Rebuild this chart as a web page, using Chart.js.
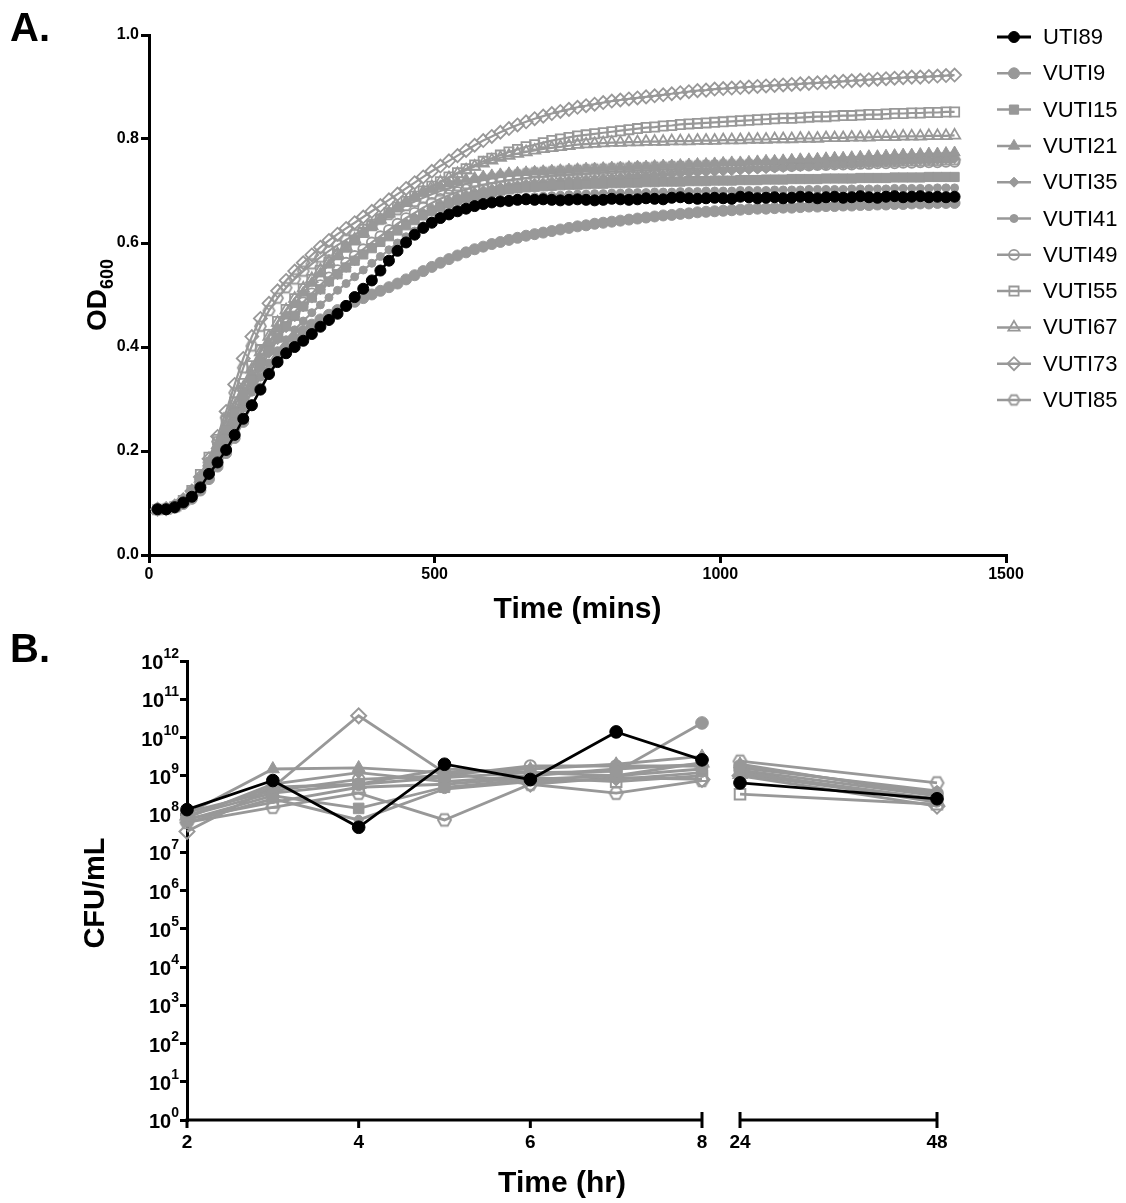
<!DOCTYPE html>
<html>
<head>
<meta charset="utf-8">
<script src="https://cdn.jsdelivr.net/npm/chart.js@4.4.1/dist/chart.umd.min.js"></script>
<style>
  body { margin: 0; background: #fff; }
  #wrap { position: relative; width: 1126px; height: 1203px; }
  canvas { position: absolute; left: 0; }
  #growth { top: 0; }
  #cfu { top: 600px; }
</style>
</head>
<body>
<div id="wrap">
  <canvas id="growth" width="1126" height="630"></canvas>
  <canvas id="cfu" width="1126" height="603"></canvas>
</div>
<script>
// ---- data: panel A (OD600 growth curves) ----
const timeMins = [15,30,45,60,75,90,105,120,135,150,165,180,195,210,225,240,255,270,285,300,
  315,330,345,360,375,390,405,420,435,450,465,480,495,510,525,540,555,570,585,600,
  615,630,645,660,675,690,705,720,735,750,765,780,795,810,825,840,855,870,885,900,
  915,930,945,960,975,990,1005,1020,1035,1050,1065,1080,1095,1110,1125,1140,1155,1170,1185,1200,
  1215,1230,1245,1260,1275,1290,1305,1320,1335,1350,1365,1380,1395,1410];

const strains = ['UTI89','VUTI9','VUTI15','VUTI21','VUTI35','VUTI41','VUTI49','VUTI55','VUTI67','VUTI73','VUTI85'];

const odUTI89 = [0.088,0.088,0.092,0.101,0.112,0.130,0.156,0.178,0.202,0.231,
  0.262,0.288,0.318,0.348,0.371,0.388,0.400,0.412,0.425,0.439,
  0.452,0.464,0.479,0.496,0.512,0.528,0.547,0.566,0.585,0.601,
  0.616,0.629,0.639,0.648,0.655,0.661,0.666,0.671,0.675,0.678,
  0.680,0.681,0.683,0.684,0.683,0.684,0.683,0.682,0.683,0.684,
  0.683,0.682,0.683,0.685,0.684,0.683,0.684,0.686,0.685,0.684,
  0.687,0.688,0.686,0.685,0.686,0.687,0.686,0.685,0.689,0.688,
  0.686,0.687,0.688,0.686,0.687,0.689,0.688,0.686,0.688,0.689,
  0.687,0.688,0.690,0.688,0.687,0.689,0.690,0.688,0.689,0.690,
  0.688,0.689,0.688,0.689];
const odVUTI9 = [0.087,0.088,0.091,0.098,0.108,0.124,0.146,0.170,0.196,0.225,
  0.256,0.288,0.320,0.350,0.376,0.398,0.416,0.431,0.443,0.453,
  0.462,0.471,0.479,0.487,0.494,0.501,0.508,0.515,0.522,0.530,
  0.538,0.546,0.554,0.562,0.569,0.576,0.582,0.588,0.593,0.598,
  0.602,0.606,0.610,0.614,0.617,0.620,0.623,0.626,0.629,0.632,
  0.634,0.637,0.639,0.641,0.643,0.645,0.647,0.649,0.651,0.653,
  0.654,0.656,0.657,0.659,0.660,0.661,0.662,0.663,0.664,0.665,
  0.666,0.666,0.667,0.668,0.668,0.669,0.670,0.670,0.671,0.671,
  0.672,0.672,0.673,0.673,0.674,0.674,0.675,0.675,0.676,0.676,
  0.676,0.677,0.677,0.677];
const odVUTI15 = [0.088,0.088,0.092,0.102,0.119,0.146,0.176,0.208,0.241,0.274,
  0.307,0.338,0.367,0.394,0.418,0.440,0.460,0.478,0.495,0.511,
  0.526,0.540,0.553,0.566,0.578,0.590,0.602,0.613,0.624,0.634,
  0.644,0.653,0.661,0.669,0.676,0.682,0.687,0.691,0.695,0.698,
  0.701,0.703,0.705,0.707,0.708,0.709,0.710,0.711,0.712,0.712,
  0.713,0.714,0.714,0.715,0.715,0.716,0.716,0.717,0.717,0.718,
  0.718,0.718,0.719,0.719,0.719,0.720,0.720,0.720,0.721,0.721,
  0.721,0.722,0.722,0.722,0.723,0.723,0.723,0.723,0.724,0.724,
  0.724,0.724,0.725,0.725,0.725,0.725,0.726,0.726,0.726,0.726,
  0.727,0.727,0.727,0.727];
const odVUTI21 = [0.087,0.088,0.091,0.101,0.116,0.140,0.170,0.203,0.238,0.274,
  0.310,0.345,0.378,0.408,0.435,0.460,0.483,0.504,0.523,0.541,
  0.558,0.574,0.590,0.605,0.619,0.633,0.646,0.658,0.669,0.679,
  0.688,0.696,0.703,0.709,0.714,0.718,0.722,0.725,0.728,0.730,
  0.732,0.734,0.735,0.736,0.737,0.738,0.739,0.740,0.741,0.742,
  0.743,0.743,0.744,0.745,0.745,0.746,0.747,0.747,0.748,0.749,
  0.749,0.750,0.751,0.752,0.752,0.753,0.754,0.755,0.755,0.756,
  0.757,0.758,0.758,0.759,0.760,0.761,0.761,0.762,0.763,0.764,
  0.764,0.765,0.766,0.767,0.767,0.768,0.769,0.770,0.770,0.771,
  0.772,0.772,0.773,0.774];
const odVUTI35 = [0.087,0.087,0.090,0.099,0.113,0.135,0.163,0.194,0.227,0.261,
  0.295,0.328,0.359,0.388,0.414,0.437,0.458,0.477,0.494,0.510,
  0.525,0.539,0.553,0.566,0.579,0.592,0.604,0.616,0.628,0.639,
  0.649,0.658,0.667,0.675,0.682,0.688,0.693,0.697,0.701,0.704,
  0.707,0.709,0.711,0.713,0.715,0.716,0.718,0.719,0.720,0.721,
  0.722,0.723,0.724,0.725,0.726,0.727,0.728,0.729,0.730,0.731,
  0.732,0.733,0.734,0.735,0.736,0.737,0.738,0.739,0.740,0.741,
  0.742,0.743,0.744,0.745,0.746,0.747,0.748,0.749,0.750,0.751,
  0.752,0.752,0.753,0.754,0.755,0.756,0.756,0.757,0.758,0.759,
  0.759,0.760,0.761,0.762];
const odVUTI41 = [0.087,0.088,0.091,0.100,0.113,0.134,0.160,0.188,0.218,0.250,
  0.282,0.313,0.342,0.369,0.393,0.414,0.433,0.450,0.466,0.481,
  0.495,0.509,0.522,0.535,0.548,0.561,0.574,0.587,0.600,0.612,
  0.623,0.633,0.642,0.650,0.657,0.663,0.668,0.672,0.676,0.679,
  0.682,0.684,0.686,0.688,0.689,0.690,0.691,0.692,0.693,0.694,
  0.694,0.695,0.695,0.696,0.696,0.697,0.697,0.697,0.698,0.698,
  0.698,0.699,0.699,0.699,0.700,0.700,0.700,0.700,0.701,0.701,
  0.701,0.701,0.702,0.702,0.702,0.702,0.703,0.703,0.703,0.703,
  0.703,0.704,0.704,0.704,0.704,0.704,0.705,0.705,0.705,0.705,
  0.705,0.706,0.706,0.706];
const odVUTI49 = [0.087,0.088,0.091,0.100,0.114,0.137,0.166,0.198,0.232,0.267,
  0.302,0.336,0.368,0.397,0.423,0.446,0.467,0.486,0.503,0.519,
  0.534,0.548,0.562,0.575,0.588,0.601,0.613,0.625,0.637,0.648,
  0.658,0.668,0.677,0.685,0.692,0.698,0.703,0.708,0.712,0.715,
  0.718,0.721,0.723,0.725,0.727,0.728,0.730,0.731,0.732,0.733,
  0.734,0.735,0.736,0.737,0.737,0.738,0.739,0.739,0.740,0.741,
  0.741,0.742,0.742,0.743,0.743,0.744,0.744,0.745,0.745,0.746,
  0.746,0.747,0.747,0.748,0.748,0.749,0.749,0.750,0.750,0.751,
  0.751,0.751,0.752,0.752,0.753,0.753,0.753,0.754,0.754,0.755,
  0.755,0.755,0.756,0.756];
const odVUTI55 = [0.087,0.088,0.093,0.105,0.124,0.155,0.188,0.222,0.258,0.294,
  0.330,0.364,0.395,0.424,0.449,0.472,0.493,0.512,0.530,0.547,
  0.563,0.578,0.592,0.606,0.620,0.633,0.646,0.658,0.669,0.680,
  0.690,0.700,0.709,0.718,0.727,0.735,0.743,0.750,0.757,0.763,
  0.769,0.775,0.780,0.785,0.789,0.793,0.797,0.800,0.803,0.806,
  0.808,0.810,0.812,0.814,0.816,0.818,0.820,0.822,0.823,0.825,
  0.826,0.828,0.829,0.830,0.831,0.832,0.833,0.834,0.835,0.836,
  0.837,0.838,0.839,0.840,0.840,0.841,0.842,0.843,0.843,0.844,
  0.845,0.845,0.846,0.847,0.847,0.848,0.849,0.849,0.850,0.850,
  0.851,0.851,0.852,0.852];
const odVUTI67 = [0.087,0.088,0.092,0.103,0.120,0.147,0.178,0.212,0.248,0.285,
  0.322,0.357,0.390,0.420,0.447,0.471,0.493,0.513,0.531,0.548,
  0.564,0.579,0.593,0.607,0.620,0.633,0.645,0.657,0.668,0.679,
  0.689,0.699,0.708,0.717,0.725,0.733,0.740,0.747,0.753,0.759,
  0.764,0.768,0.772,0.775,0.778,0.781,0.783,0.785,0.787,0.789,
  0.790,0.791,0.792,0.793,0.793,0.794,0.794,0.795,0.795,0.795,
  0.796,0.796,0.796,0.797,0.797,0.797,0.798,0.798,0.798,0.799,
  0.799,0.799,0.800,0.800,0.800,0.801,0.801,0.801,0.802,0.802,
  0.802,0.803,0.803,0.803,0.804,0.804,0.804,0.805,0.805,0.805,
  0.806,0.806,0.806,0.807];
const odVUTI73 = [0.088,0.089,0.094,0.106,0.123,0.150,0.185,0.228,0.276,0.328,
  0.378,0.420,0.455,0.484,0.508,0.528,0.546,0.562,0.577,0.592,
  0.605,0.617,0.628,0.639,0.650,0.661,0.672,0.683,0.694,0.705,
  0.716,0.727,0.738,0.748,0.758,0.768,0.778,0.788,0.797,0.805,
  0.813,0.820,0.827,0.833,0.839,0.844,0.849,0.853,0.857,0.861,
  0.864,0.867,0.870,0.873,0.875,0.877,0.879,0.881,0.883,0.885,
  0.887,0.889,0.891,0.893,0.894,0.896,0.897,0.898,0.899,0.900,
  0.901,0.902,0.903,0.904,0.905,0.906,0.907,0.908,0.909,0.910,
  0.911,0.912,0.913,0.914,0.915,0.916,0.917,0.918,0.919,0.919,
  0.920,0.921,0.922,0.923];
const odVUTI85 = [0.088,0.089,0.093,0.104,0.120,0.145,0.178,0.218,0.264,0.312,
  0.360,0.402,0.440,0.470,0.494,0.514,0.531,0.546,0.560,0.573,
  0.585,0.596,0.606,0.616,0.626,0.636,0.646,0.655,0.664,0.672,
  0.680,0.687,0.694,0.700,0.705,0.710,0.714,0.718,0.721,0.724,
  0.727,0.729,0.731,0.733,0.735,0.736,0.737,0.738,0.739,0.740,
  0.741,0.742,0.742,0.743,0.744,0.744,0.745,0.745,0.746,0.746,
  0.747,0.747,0.748,0.748,0.749,0.749,0.750,0.750,0.750,0.751,
  0.751,0.752,0.752,0.752,0.753,0.753,0.754,0.754,0.754,0.755,
  0.755,0.755,0.756,0.756,0.757,0.757,0.757,0.758,0.758,0.758,
  0.759,0.759,0.760,0.760];

// ---- data: panel B (CFU/mL) ----
const cfuHours = [2, 3, 4, 5, 6, 7, 8, 24, 48];
const cfuUTI89 = [1.3e8, 7.5e8, 4.5e7, 2.0e9, 8.0e8, 1.4e10, 2.6e9, 6.5e8, 2.5e8];
const cfuVUTI9 = [9e7, 5e8, 6e8, 9e8, 1.2e9, 1.3e9, 2.4e10, 1.8e9, 3.5e8];
const cfuVUTI15 = [7e7, 3e8, 1.4e8, 5e8, 8e8, 1.0e9, 1.5e9, 1.2e9, 2.5e8];
const cfuVUTI21 = [1.0e8, 1.5e9, 1.6e9, 1.2e9, 1.5e9, 2.0e9, 3.2e9, 2.0e9, 3.0e8];
const cfuVUTI35 = [8e7, 6e8, 1.2e9, 7e8, 1.0e9, 1.5e9, 2.0e9, 1.6e9, 4e8];
const cfuVUTI41 = [6e7, 2.5e8, 7e7, 4.5e8, 7e8, 8e8, 1.2e9, 1.3e9, 2e8];
const cfuVUTI49 = [1.1e8, 4e8, 8e8, 1.0e9, 1.8e9, 1.8e9, 1.8e9, 1.4e9, 3e8];
const cfuVUTI55 = [7.5e7, 2e8, 5e8, 6e8, 9e8, 7e8, 1.0e9, 3.3e8, 1.8e8];
const cfuVUTI67 = [9e7, 3.5e8, 6e8, 1.5e9, 1.2e9, 1.0e9, 2.2e9, 1.1e9, 2.2e8];
const cfuVUTI73 = [3.5e7, 5e8, 3.7e10, 1.2e9, 6e8, 9e8, 8e8, 1.0e9, 1.6e8];
const cfuVUTI85 = [6e7, 1.5e8, 3.5e8, 7e7, 6e8, 3.5e8, 7.5e8, 2.4e9, 6.5e8];

const tickHoursB = [2, 4, 6, 8, 24, 48];
const tickLabelsB = ['2', '4', '6', '8', '24', '48'];
const cfuExponents = [0,1,2,3,4,5,6,7,8,9,10,11,12];

const odSeries = [odUTI89, odVUTI9, odVUTI15, odVUTI21, odVUTI35, odVUTI41, odVUTI49, odVUTI55, odVUTI67, odVUTI73, odVUTI85];
const cfuSeries = [cfuUTI89, cfuVUTI9, cfuVUTI15, cfuVUTI21, cfuVUTI35, cfuVUTI41, cfuVUTI49, cfuVUTI55, cfuVUTI67, cfuVUTI73, cfuVUTI85];

// ---- styles ----
const FONT = '"Liberation Sans", Arial, Helvetica, sans-serif';
const GRAY = '#989898';
Chart.defaults.font.family = FONT;
Chart.defaults.color = '#000';

function hexImage(r, color, lw) {
  const s = Math.ceil(2 * r + lw + 2);
  const c = document.createElement('canvas');
  c.width = s; c.height = s;
  const g = c.getContext('2d');
  g.strokeStyle = color; g.lineWidth = lw;
  g.beginPath();
  for (let i = 0; i < 6; i++) {
    const a = Math.PI / 3 * i;
    const x = s / 2 + r * Math.cos(a), y = s / 2 + r * Math.sin(a);
    if (i) g.lineTo(x, y); else g.moveTo(x, y);
  }
  g.closePath(); g.stroke();
  return c;
}
const hexA = hexImage(5.5, GRAY, 1.8);
const hexB = hexImage(6.5, GRAY, 2);

const markers = [
  { style: 'circle', r: 5.5, open: false },
  { style: 'circle', r: 5.5, open: false },
  { style: 'rect', r: 6.5, open: false },
  { style: 'triangle', r: 6.5, open: false },
  { style: 'rectRot', r: 5, open: false },
  { style: 'circle', r: 4, open: false },
  { style: 'circle', r: 5, open: true },
  { style: 'rect', r: 6.5, open: true },
  { style: 'triangle', r: 6.5, open: true },
  { style: 'rectRot', r: 6.5, open: true },
  { style: 'hex', r: 5.5, open: true }
];
const colorOf = i => i === 0 ? '#000' : GRAY;

// broken axis for panel B: hours -> axis position (6 h segment, gap, 24 h segment)
function bPos(h) {
  return h <= 8 ? h : 8.443 + (h - 24) * (2.295 / 24);
}

function drawMarker(ctx, m, x, y, color, hexImg, scale) {
  ctx.save();
  ctx.fillStyle = m.open ? 'rgba(0,0,0,0)' : color;
  ctx.strokeStyle = color;
  ctx.lineWidth = m.open ? 1.8 : 1;
  Chart.helpers.drawPoint(ctx, {
    pointStyle: m.style === 'hex' ? hexImg : m.style,
    radius: m.r * scale, borderWidth: 1, rotation: 0
  }, x, y);
  ctx.restore();
}

// ---- panel A ----
const growthDecor = {
  id: 'growthDecor',
  afterDraw(chart) {
    const ctx = chart.ctx;
    ctx.save();
    ctx.fillStyle = '#000';
    ctx.textAlign = 'left';
    ctx.textBaseline = 'alphabetic';
    ctx.font = 'bold 40px ' + FONT;
    ctx.fillText('A.', 10, 41);

    // y title OD600
    ctx.save();
    ctx.translate(96, 295);
    ctx.rotate(-Math.PI / 2);
    ctx.font = 'bold 28px ' + FONT;
    const w1 = ctx.measureText('OD').width;
    ctx.font = 'bold 18px ' + FONT;
    const w2 = ctx.measureText('600').width;
    const start = -(w1 + w2) / 2;
    ctx.font = 'bold 28px ' + FONT;
    ctx.fillText('OD', start, 10);
    ctx.font = 'bold 18px ' + FONT;
    ctx.fillText('600', start + w1, 17);
    ctx.restore();

    ctx.textAlign = 'center';
    ctx.font = 'bold 30px ' + FONT;
    ctx.fillText('Time (mins)', (chart.chartArea.left + chart.chartArea.right) / 2, 618);

    // legend
    ctx.font = '22px ' + FONT;
    ctx.textAlign = 'left';
    ctx.textBaseline = 'middle';
    strains.forEach((name, i) => {
      const y = 37 + i * 36.3;
      const c = colorOf(i);
      ctx.strokeStyle = c;
      ctx.lineWidth = i === 0 ? 3 : 2.5;
      ctx.beginPath(); ctx.moveTo(997, y); ctx.lineTo(1031, y); ctx.stroke();
      drawMarker(ctx, markers[i], 1014, y, c, hexA, 1);
      ctx.fillStyle = '#000';
      ctx.fillText(name, 1043, y + 1);
    });
    ctx.restore();
  }
};

const growthDatasets = strains.map((name, i) => {
  const m = markers[i], c = colorOf(i);
  return {
    label: name,
    data: timeMins.map((t, k) => ({ x: t, y: odSeries[i][k] })),
    borderColor: c,
    borderWidth: i === 0 ? 2.5 : 2.2,
    pointStyle: m.style === 'hex' ? hexA : m.style,
    pointRadius: m.r,
    pointBackgroundColor: m.open ? 'rgba(0,0,0,0)' : c,
    pointBorderColor: c,
    pointBorderWidth: m.open ? 1.8 : 1,
    fill: false,
    tension: 0,
    clip: false
  };
});

new Chart(document.getElementById('growth'), {
  type: 'line',
  data: { datasets: growthDatasets },
  options: {
    responsive: false,
    animation: false,
    events: [],
    layout: { padding: { left: 0, top: 35, right: 120, bottom: 0 } },
    plugins: { legend: { display: false }, tooltip: { enabled: false } },
    scales: {
      x: {
        type: 'linear', min: 0, max: 1500,
        ticks: { stepSize: 500, maxRotation: 0, padding: 2, color: '#000',
                 font: { size: 16, weight: 'bold' },
                 callback: v => String(v) },
        grid: { drawOnChartArea: false, color: '#000', lineWidth: 3, tickLength: 8 },
        border: { color: '#000', width: 3 },
        afterFit(s) { s.height = 75; }
      },
      y: {
        type: 'linear', min: 0, max: 1,
        ticks: { stepSize: 0.2, padding: 2, color: '#000',
                 font: { size: 16, weight: 'bold' },
                 callback: v => v.toFixed(1) },
        grid: { drawOnChartArea: false, color: '#000', lineWidth: 3, tickLength: 8 },
        border: { color: '#000', width: 3 },
        afterFit(s) { s.width = 149; }
      }
    }
  },
  plugins: [growthDecor]
});

// ---- panel B ----
const cfuDecor = {
  id: 'cfuDecor',
  afterDraw(chart) {
    const ctx = chart.ctx;
    const xs = chart.scales.x, ys = chart.scales.y;
    const y0 = chart.chartArea.bottom;
    ctx.save();
    ctx.fillStyle = '#000';
    ctx.strokeStyle = '#000';
    ctx.textBaseline = 'alphabetic';
    ctx.textAlign = 'left';
    ctx.font = 'bold 40px ' + FONT;
    ctx.fillText('B.', 10, 62);

    // broken x axis
    ctx.lineWidth = 3;
    ctx.beginPath();
    ctx.moveTo(chart.chartArea.left - 1.5, y0); ctx.lineTo(xs.getPixelForValue(bPos(8)), y0);
    ctx.moveTo(xs.getPixelForValue(bPos(24)), y0); ctx.lineTo(xs.getPixelForValue(bPos(48)), y0);
    ctx.stroke();
    tickHoursB.forEach(h => {
      const x = xs.getPixelForValue(bPos(h));
      const up = (h === 8 || h === 24 || h === 48) ? 8 : 0;
      ctx.beginPath(); ctx.moveTo(x, y0 - up); ctx.lineTo(x, y0 + 8); ctx.stroke();
    });

    // y tick labels 10^n
    const xr = chart.chartArea.left - 8;
    cfuExponents.forEach(e => {
      const y = ys.getPixelForValue(Math.pow(10, e));
      const ex = String(e);
      ctx.font = 'bold 14px ' + FONT;
      const we = ctx.measureText(ex).width;
      ctx.font = 'bold 20px ' + FONT;
      const wb = ctx.measureText('10').width;
      ctx.fillText('10', xr - we - wb, y + 8);
      ctx.font = 'bold 14px ' + FONT;
      ctx.fillText(ex, xr - we, y - 3);
    });

    // titles
    ctx.save();
    ctx.translate(96, 293);
    ctx.rotate(-Math.PI / 2);
    ctx.textAlign = 'center';
    ctx.textBaseline = 'middle';
    ctx.font = 'bold 29px ' + FONT;
    ctx.fillText('CFU/mL', 0, 0);
    ctx.restore();

    ctx.textAlign = 'center';
    ctx.font = 'bold 30px ' + FONT;
    ctx.fillText('Time (hr)', 562, 592);
    ctx.restore();
  }
};

const cfuDatasets = strains.map((name, i) => {
  const m = markers[i], c = colorOf(i);
  const pts = cfuHours.map((h, k) => ({ x: bPos(h), y: cfuSeries[i][k] }));
  pts.splice(7, 0, { x: (bPos(8) + bPos(24)) / 2, y: null });
  return {
    label: name,
    data: pts,
    borderColor: c,
    borderWidth: 2.8,
    pointStyle: m.style === 'hex' ? hexB : m.style,
    pointRadius: m.r * 1.15,
    pointBackgroundColor: m.open ? 'rgba(0,0,0,0)' : c,
    pointBorderColor: c,
    pointBorderWidth: m.open ? 2 : 1,
    fill: false,
    tension: 0,
    spanGaps: false,
    clip: false
  };
});

new Chart(document.getElementById('cfu'), {
  type: 'line',
  data: { datasets: cfuDatasets },
  options: {
    responsive: false,
    animation: false,
    events: [],
    layout: { padding: { left: 0, top: 61, right: 189, bottom: 0 } },
    plugins: { legend: { display: false }, tooltip: { enabled: false } },
    scales: {
      x: {
        type: 'linear', min: bPos(2), max: bPos(48),
        afterBuildTicks(s) { s.ticks = tickHoursB.map(h => ({ value: bPos(h) })); },
        ticks: { autoSkip: false, maxRotation: 0, padding: 11, color: '#000',
                 font: { size: 19, weight: 'bold' },
                 callback: (v, i) => tickLabelsB[i] },
        grid: { display: false, drawTicks: false },
        border: { display: false },
        afterFit(s) { s.height = 83; }
      },
      y: {
        type: 'logarithmic', min: 1, max: 1e12,
        afterBuildTicks(s) { s.ticks = cfuExponents.map(e => ({ value: Math.pow(10, e) })); },
        ticks: { display: false },
        grid: { drawOnChartArea: false, color: '#000', lineWidth: 3, tickLength: 7 },
        border: { color: '#000', width: 3 },
        afterFit(s) { s.width = 187; }
      }
    }
  },
  plugins: [cfuDecor]
});
</script>
</body>
</html>
